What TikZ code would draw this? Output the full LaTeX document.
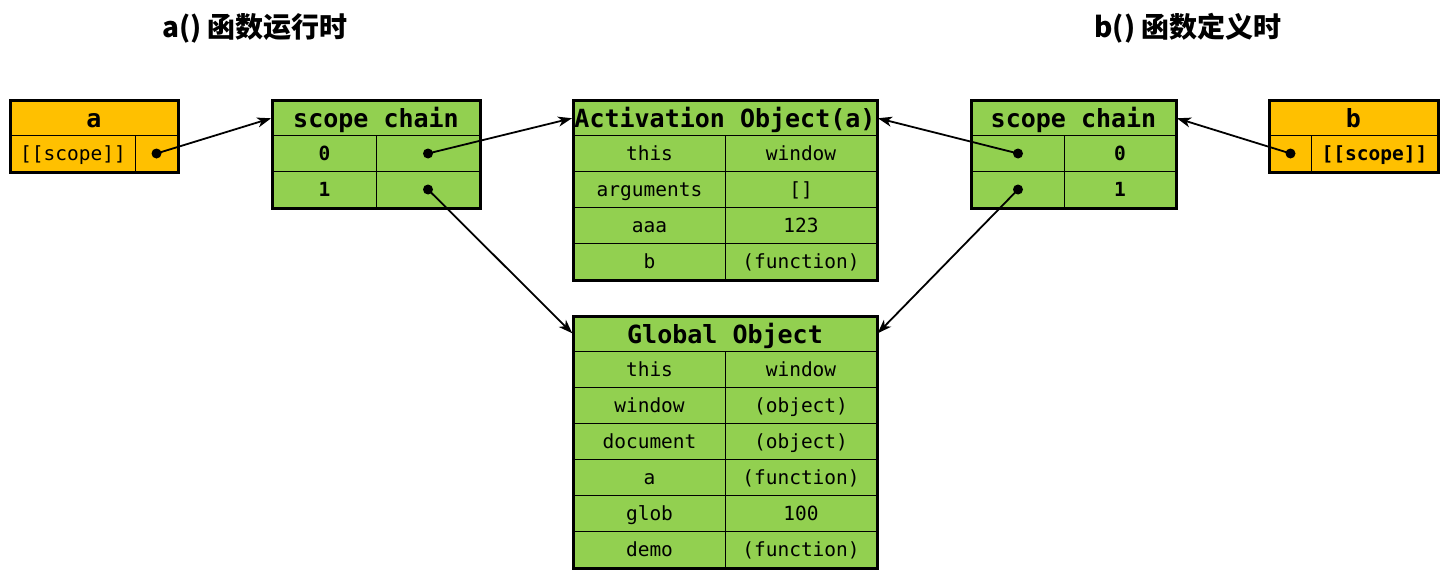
\documentclass[tikz,border=0pt]{standalone}
\usepackage{fontspec}
\setmonofont{DejaVu Sans Mono}
\newfontfamily\cjk{Noto Sans CJK SC}
\usetikzlibrary{arrows.meta}
\definecolor{objgreen}{HTML}{92D050}
\definecolor{fnyellow}{HTML}{FFC000}

\begin{document}
\begin{tikzpicture}[x=1pt,y=-1pt,
    hdr/.style={draw, line width=1pt, anchor=north west, inner sep=0pt, minimum height=35pt,
      text height=21pt, text depth=2pt, font=\ttfamily\bfseries\fontsize{25}{25}\selectfont},
    cell/.style={draw, line width=1pt, anchor=north west, inner sep=0pt, minimum height=36pt,
      text height=16pt, text depth=2pt, font=\ttfamily\fontsize{19.5}{20}\selectfont},
    bcell/.style={cell, font=\ttfamily\bfseries\fontsize{19.5}{20}\selectfont},
    frame/.style={line width=3pt},
    dot/.style={circle, fill, inner sep=0pt, minimum size=10pt},
    ptr/.style={-{Stealth[length=14pt,width=10pt,inset=4pt]}, line width=1.8pt, shorten >=1pt},
    title/.style={font=\cjk\bfseries\fontsize{28}{28}\selectfont}]
  \useasboundingbox (0,0) rectangle (1446,578);

  % titles
  \node[title] (t-a) at (255,28) {a() 函数运行时};
  \node[title] (t-b) at (1188,28) {b() 函数定义时};

  % function a
  \node[hdr, fill=fnyellow, minimum width=167pt] (fa) at (10,100) {a};
  \node[cell, fill=fnyellow, minimum width=125pt] (fa-k) at (10,135) {[[scope]]};
  \node[cell, fill=fnyellow, minimum width=42pt] (fa-v) at (135,135) {};
  \draw[frame] (fa.north west) rectangle (fa-v.south east);
  \node[dot] (fa-dot) at (fa-v.center) {};

  % scope chain of a
  \node[hdr, fill=objgreen, minimum width=207pt] (asc) at (272,100) {scope chain};
  \foreach \i in {0,1}{
    \node[bcell, fill=objgreen, minimum width=104pt] (asc-k\i) at (272,{135+36*\i}) {\i};
    \node[cell, fill=objgreen, minimum width=103pt] (asc-v\i) at (376,{135+36*\i}) {};
    \node[dot] (asc-dot\i) at (asc-v\i.center) {};
  }
  \draw[frame] (asc.north west) rectangle (asc-v1.south east);

  % activation object
  \node[hdr, fill=objgreen, minimum width=303pt] (act) at (573,100) {Activation Object(a)};
  \foreach \k/\v [count=\i] in {this/window, arguments/{[]}, aaa/123, b/(function)}{
    \node[cell, fill=objgreen, minimum width=152pt] (act-k\i) at (573,{99+36*\i}) {\k};
    \node[cell, fill=objgreen, minimum width=151pt] (act-v\i) at (725,{99+36*\i}) {\v};
  }
  \draw[frame] (act.north west) rectangle (act-v4.south east);

  % global object
  \node[hdr, fill=objgreen, minimum width=303pt] (glob) at (573,316) {Global Object};
  \foreach \k/\v [count=\i] in {this/window, window/(object), document/(object), a/(function), glob/100, demo/(function)}{
    \node[cell, fill=objgreen, minimum width=152pt] (glob-k\i) at (573,{315+36*\i}) {\k};
    \node[cell, fill=objgreen, minimum width=151pt] (glob-v\i) at (725,{315+36*\i}) {\v};
  }
  \draw[frame] (glob.north west) rectangle (glob-v6.south east);

  % scope chain of b
  \node[hdr, fill=objgreen, minimum width=204pt] (bsc) at (971,100) {scope chain};
  \foreach \i in {0,1}{
    \node[cell, fill=objgreen, minimum width=93pt] (bsc-k\i) at (971,{135+36*\i}) {};
    \node[bcell, fill=objgreen, minimum width=111pt] (bsc-v\i) at (1064,{135+36*\i}) {\i};
    \node[dot] (bsc-dot\i) at (bsc-k\i.center) {};
  }
  \draw[frame] (bsc.north west) rectangle (bsc-v1.south east);

  % function b
  \node[hdr, fill=fnyellow, minimum width=168pt] (fb) at (1269,100) {b};
  \node[cell, fill=fnyellow, minimum width=42pt] (fb-k) at (1269,135) {};
  \node[bcell, fill=fnyellow, minimum width=126pt] (fb-v) at (1311,135) {[[scope]]};
  \draw[frame] (fb.north west) rectangle (fb-v.south east);
  \node[dot] (fb-dot) at (fb-k.center) {};

  % pointers
  \draw[ptr] (fa-dot.center) -- (asc.west);
  \draw[ptr] (asc-dot0.center) -- (act.west);
  \draw[ptr] (asc-dot1.center) -- (glob.west);
  \draw[ptr] (bsc-dot0.center) -- (act.east);
  \draw[ptr] (bsc-dot1.center) -- (glob.east);
  \draw[ptr] (fb-dot.center) -- (bsc.east);
\end{tikzpicture}
\end{document}
